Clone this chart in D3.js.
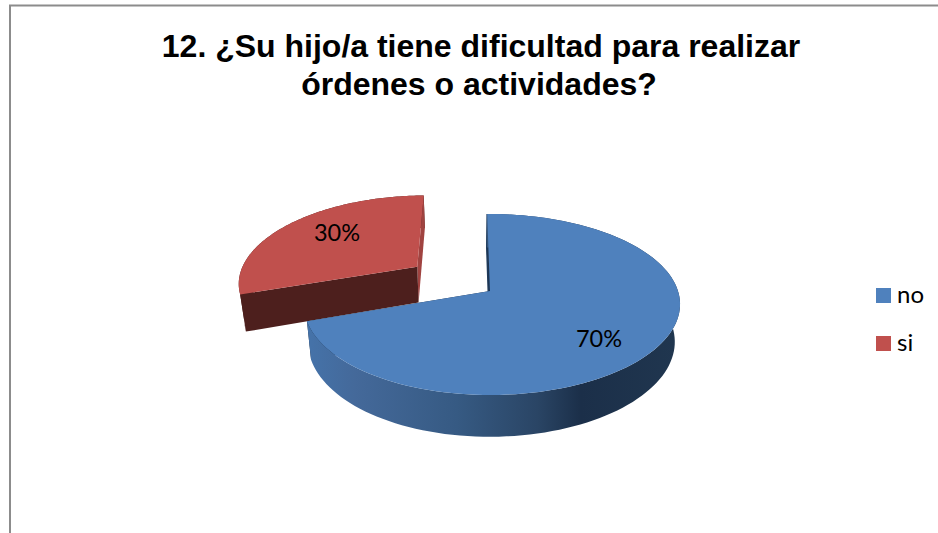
<!DOCTYPE html>
<html>
<head>
  <meta charset="utf-8">
  <style>
    html, body { margin: 0; padding: 0; background: #fff; }
    svg { display: block; }
    .title { font-family: "Liberation Sans", Arial, sans-serif; font-weight: bold; font-size: 32px; text-anchor: middle; fill: #000; }
    .lbl { font-family: Lato, "Open Sans", sans-serif; fill: #000; }
  </style>
</head>
<body>
  <div id="chart"></div>
  <script src="https://d3js.org/d3.v7.min.js"></script>
  <script>
    // data
    const categories = ["no", "si"];
    const values = [70, 30];
    const labels = ["70%", "30%"];
    const titleLines = ["12. ¿Su hijo/a tiene dificultad para realizar", "órdenes o actividades?"];

    const colors = {no: "#4f81bd", si: "#c0504d"};

    const width = 938, height = 533;
    const svg = d3.select("#chart").append("svg")
        .attr("width", width)
        .attr("height", height);

    // chart frame, only top and left fall inside the picture
    svg.append("path")
        .attr("d", "M10,533V5.5H938")
        .attr("fill", "none")
        .attr("stroke", "#8c8c8c")
        .attr("stroke-width", 2);

    const titleX = [481, 479], titleY = [57, 95];
    titleLines.forEach((t, i) => {
      svg.append("text").attr("class", "title")
          .attr("x", titleX[i])
          .attr("y", titleY[i])
          .text(t);
    });

    // tilted pie: ground plane -> screen
    const cx = 490, cy = 291, R = 186, A = 88.5, k = 0.149, skew = 2;
    const explode = 0.5;
    const vanishX = 470, scaleX = 0.975, scaleY = 1.046, depth = 37;

    function project(gx, gy) {
      const w = 1 - k * gy;
      return [cx + R * gx / w + skew * gx * gx, cy + A * gy / w];
    }
    // same point on the underside of the pie
    function lower(p) {
      return [vanishX + (p[0] - vanishX) * scaleX, cy + (p[1] - cy) * scaleY + depth];
    }
    function rimPoint(a, off) {
      return project(Math.sin(a) + off[0], -Math.cos(a) + off[1]);
    }

    const pie = d3.pie().sort(null).startAngle(-Math.PI / 180).endAngle(2 * Math.PI - Math.PI / 180);
    const arcs = pie(values);
    const line = d3.line();

    function rim(d, off) {
      const n = 120;
      return d3.range(n + 1).map(i => rimPoint(d.startAngle + (d.endAngle - d.startAngle) * i / n, off));
    }

    const defs = svg.append("defs");
    const sideGrad = defs.append("linearGradient")
        .attr("id", "sideBlue")
        .attr("gradientUnits", "userSpaceOnUse")
        .attr("x1", 311).attr("x2", 676).attr("y1", 0).attr("y2", 0);
    [[0, "#4572a8"], [0.12, "#44699a"], [0.4, "#365a83"], [0.62, "#2a4565"], [0.74, "#1b2f49"], [1, "#20364f"]]
        .forEach(s => sideGrad.append("stop").attr("offset", s[0]).attr("stop-color", s[1]));

    function drawSlice(d, i) {
      const mid = (d.startAngle + d.endAngle) / 2;
      const off = i === 1 ? [Math.sin(mid) * explode, -Math.cos(mid) * explode] : [0, 0];
      const top = rim(d, off);
      const apex = project(off[0], off[1]);
      const name = categories[i];
      const g = svg.append("g").attr("class", "slice-" + name);

      const startWall = [top[0], apex, lower(apex), lower(top[0])];
      const endWall = [top[top.length - 1], apex, lower(apex), lower(top[top.length - 1])];
      const outer = top.concat(top.map(lower).reverse());

      function addWalls() {
        g.append("path").attr("d", line(endWall) + "Z")
            .attr("fill", i === 1 ? "#a04340" : "#17283f");
        g.append("path").attr("d", line(startWall) + "Z")
            .attr("fill", i === 1 ? "#4d1f1d" : "#17283f")
            .attr("stroke", i === 1 ? "none" : "#1f3a5a")
            .attr("stroke-width", 1.5);
      }
      function addOuter() {
        g.append("path").attr("d", line(outer) + "Z")
            .attr("fill", i === 1 ? "#4d1f1d" : "url(#sideBlue)");
      }
      // the red slice shows its back edge, so its walls go over the curved side
      if (i === 1) { addOuter(); addWalls(); } else { addWalls(); addOuter(); }

      // top face
      g.append("path").attr("d", line([apex].concat(top)) + "Z")
          .attr("fill", colors[name]);
    }
    // red first, the blue slice sits in front of it
    drawSlice(arcs[1], 1);
    drawSlice(arcs[0], 0);

    const labelPos = [[599, 347], [337, 241]];
    labels.forEach((t, i) => {
      svg.append("text").attr("class", "lbl")
          .attr("x", labelPos[i][0])
          .attr("y", labelPos[i][1])
          .attr("text-anchor", "middle")
          .attr("font-size", 23.5)
          .text(t);
    });

    // legend
    const legendY = d3.scalePoint().domain(categories).range([288, 336]);
    const legend = svg.selectAll("g.legend").data(categories).enter().append("g")
        .attr("class", "legend")
        .attr("transform", d => "translate(876," + legendY(d) + ")");
    legend.append("rect")
        .attr("width", 15)
        .attr("height", 15)
        .attr("fill", d => colors[d]);
    legend.append("text").attr("class", "lbl")
        .attr("x", 21)
        .attr("y", 15)
        .attr("font-size", 24)
        .text(d => d);
  </script>
</body>
</html>
